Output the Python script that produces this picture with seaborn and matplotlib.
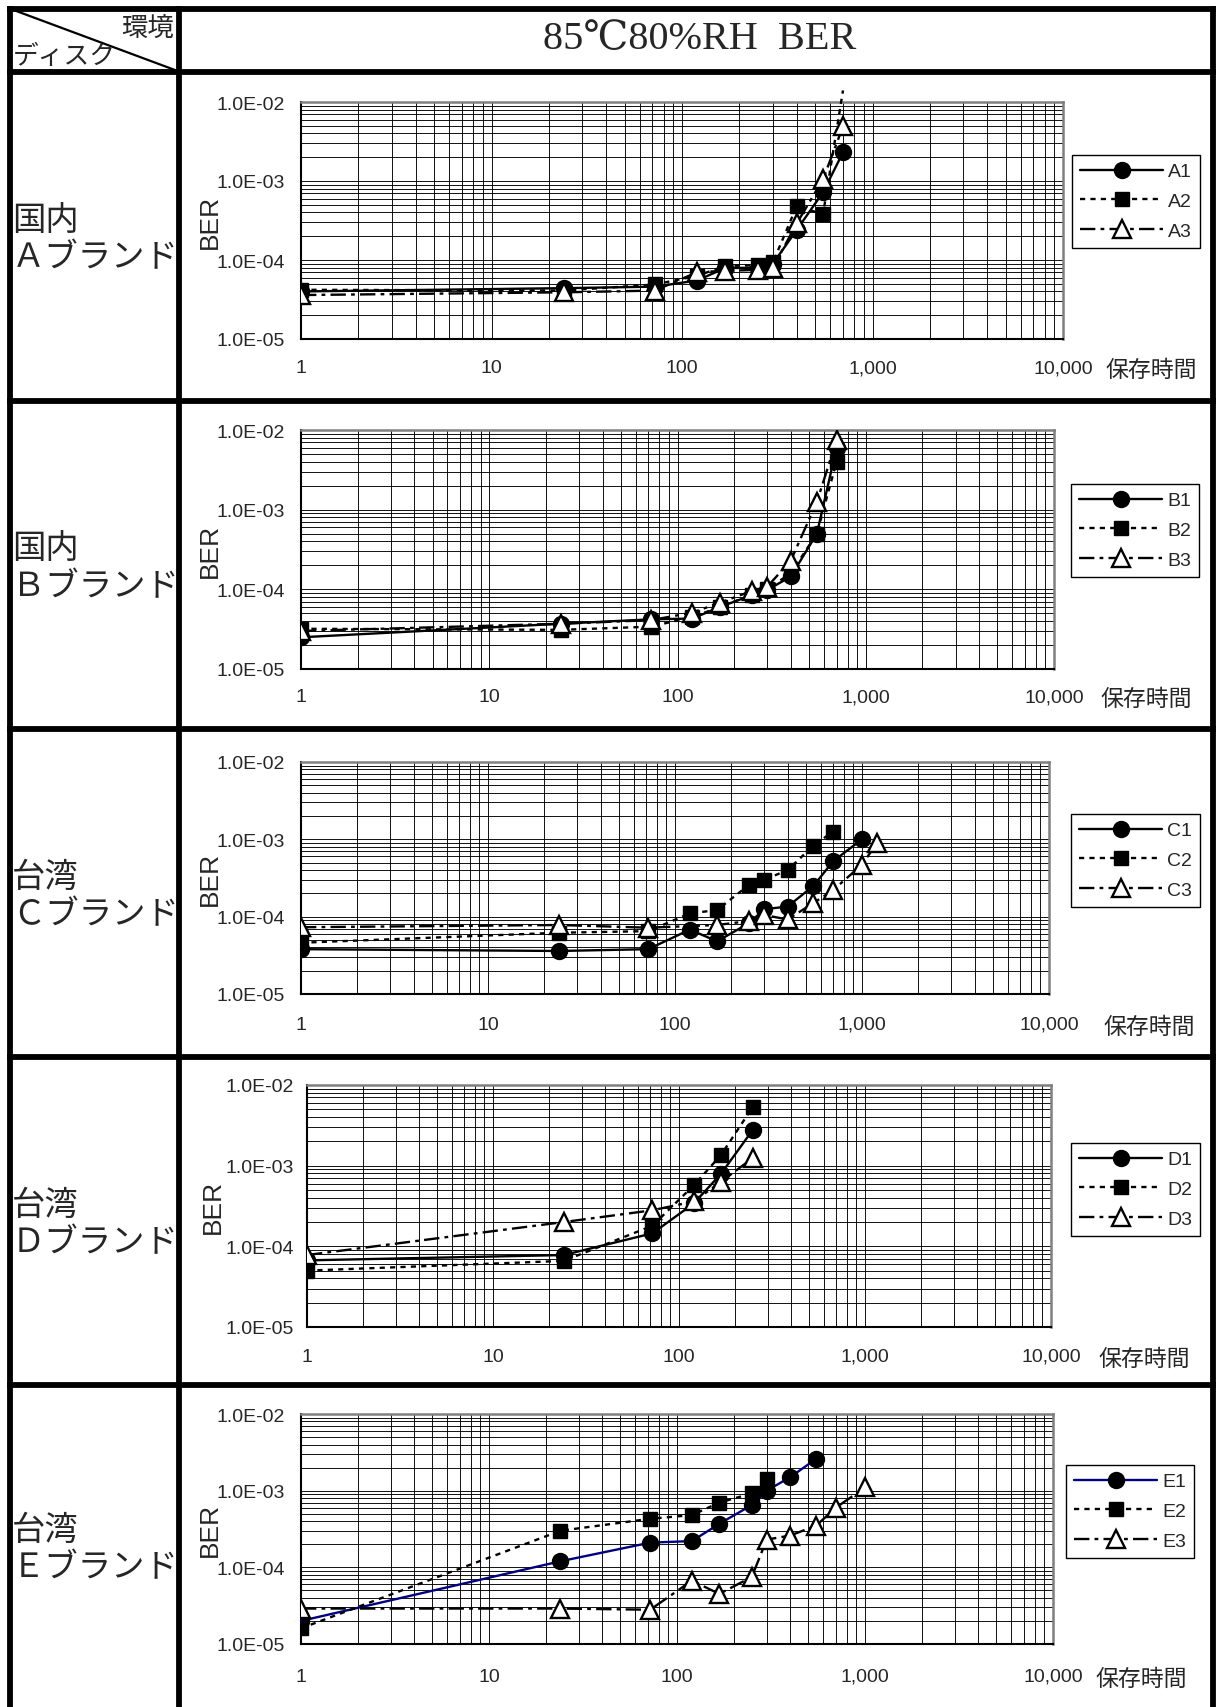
import matplotlib
matplotlib.use("Agg")
import matplotlib.pyplot as plt
from matplotlib.lines import Line2D
from matplotlib.ticker import FixedLocator, FixedFormatter, LogLocator, NullFormatter
import numpy as np
import pandas as pd
import seaborn as sns

sns.set_style("white")
plt.rcParams["font.family"] = ["Liberation Sans", "Noto Sans CJK JP"]
JP = ["Noto Sans CJK JP", "DejaVu Sans"]
SERIF = ["Liberation Serif", "DejaVu Serif", "Noto Sans CJK JP"]

# ---------------- data: storage hours vs. bit error rate ----------------
A_hours = [1, 24, 72, 120, 168, 250, 300, 400, 550, 700]
A1 = [4.0e-5, 4.4e-5, 4.6e-5, 5.5e-5, 7.9e-5, 8.0e-5, 9.0e-5, 2.4e-4, 7.2e-4, 2.3e-3]
A2 = [4.2e-5, 4.1e-5, 4.9e-5, 6.3e-5, 8.4e-5, 8.6e-5, 9.3e-5, 4.8e-4, 3.8e-4, 1.4e-2]
A3 = [3.6e-5, 3.9e-5, 4.1e-5, 7.0e-5, 7.3e-5, 7.5e-5, 8.0e-5, 2.9e-4, 1.05e-3, 4.9e-3]

B_hours = [1, 24, 72, 120, 168, 250, 300, 400, 550, 700]
B1 = [2.5e-5, 3.7e-5, 4.2e-5, 4.3e-5, 6.0e-5, 8.5e-5, 9.8e-5, 1.45e-4, 5.0e-4, 6.0e-3]
B2 = [3.2e-5, 3.1e-5, 3.4e-5, 4.5e-5, 6.0e-5, 8.6e-5, 1.0e-4, 1.6e-4, 5.0e-4, 4.0e-3]
B3 = [3.0e-5, 3.7e-5, 4.1e-5, 5.1e-5, 6.8e-5, 9.6e-5, 1.08e-4, 2.3e-4, 1.25e-3, 7.5e-3]

C1_hours = [1, 24, 72, 120, 168, 250, 300, 400, 550, 700, 1000]
C1 = [3.8e-5, 3.6e-5, 3.8e-5, 6.8e-5, 4.8e-5, 8.3e-5, 1.25e-4, 1.35e-4, 2.5e-4, 5.2e-4, 1.0e-3]
C2_hours = [1, 24, 72, 120, 168, 250, 300, 400, 550, 700]
C2 = [4.6e-5, 6.2e-5, 6.5e-5, 1.1e-4, 1.22e-4, 2.6e-4, 3.0e-4, 4.0e-4, 8.3e-4, 1.26e-3]
C3_hours = [1, 24, 72, 168, 250, 300, 400, 550, 700, 1000, 1200]
C3 = [7.3e-5, 7.8e-5, 7.2e-5, 7.8e-5, 8.8e-5, 1.05e-4, 9.2e-5, 1.5e-4, 2.2e-4, 4.7e-4, 8.9e-4]

D_hours = [1, 24, 72, 120, 168, 250]
D1 = [6.7e-5, 7.8e-5, 1.45e-4, 3.4e-4, 7.9e-4, 2.8e-3]
D2 = [5.0e-5, 6.6e-5, 1.8e-4, 5.7e-4, 1.35e-3, 5.4e-3]
D3 = [7.8e-5, 2.0e-4, 2.8e-4, 3.6e-4, 6.3e-4, 1.25e-3]

E1_hours = [1, 24, 72, 120, 168, 250, 300, 400, 550]
E1 = [2.0e-5, 1.2e-4, 2.1e-4, 2.2e-4, 3.7e-4, 6.5e-4, 1.0e-3, 1.5e-3, 2.6e-3]
E2_hours = [1, 24, 72, 120, 168, 250, 300]
E2 = [1.6e-5, 3.0e-4, 4.3e-4, 4.8e-4, 7.0e-4, 9.2e-4, 1.4e-3]
E3_hours = [1, 24, 72, 120, 168, 250, 300, 400, 550, 700, 1000]
E3 = [2.9e-5, 2.9e-5, 2.8e-5, 6.7e-5, 4.5e-5, 7.5e-5, 2.3e-4, 2.6e-4, 3.5e-4, 6.0e-4, 1.1e-3]

x_ticks = [1, 10, 100, 1000, 10000]
x_tick_labels = ["1", "10", "100", "1,000", "10,000"]
y_ticks = [1e-5, 1e-4, 1e-3, 1e-2]
y_tick_labels = ["1.0E-05", "1.0E-04", "1.0E-03", "1.0E-02"]

title = "85℃80%RH  BER"
header_env = "環境"
header_disk = "ディスク"
row_labels = ["国内\nＡブランド", "国内\nＢブランド", "台湾\nＣブランド",
              "台湾\nＤブランド", "台湾\nＥブランド"]
x_title = "保存時間"
y_title = "BER"

# ---------------- figure & table frame ----------------
W, H = 1221, 1708
fig = plt.figure(figsize=(W / 100, H / 100), dpi=100)

bg = fig.add_axes([0, 0, 1, 1], zorder=0)
bg.set_xlim(0, W)
bg.set_ylim(H, 0)
bg.axis("off")

BORDER = 4.2
row_edges = [9.5, 72.5, 401.5, 730, 1058, 1386, H]
for y in row_edges[:-1]:
    bg.plot([9.5, 1212.5], [y, y], color="black", lw=BORDER, solid_capstyle="projecting")
for x in [9.5, 179, 1212.5]:
    bg.plot([x, x], [9.5, H], color="black", lw=BORDER, solid_capstyle="projecting")
bg.plot([9.5, 179], [9.5, 72.5], color="black", lw=1.6)

bg.text(174, 28, header_env, family=JP, fontsize=19, ha="right", va="center")
bg.text(13, 57, header_disk, family=JP, fontsize=18.5, ha="left", va="center")
bg.text(700, 39, title, family=SERIF, fontsize=29, ha="center", va="center")

for i, lab in enumerate(row_labels):
    cy = (row_edges[i + 1] + row_edges[i + 2]) / 2 + 2
    bg.text(12, cy, lab, family=JP, fontsize=24, ha="left", va="center", linespacing=1.1)

# ---------------- series styles ----------------
LW = 1.7
STYLES = [
    dict(ls="-", marker="o", ms=11.5, mfc="black", mec="black", mew=1.0),
    dict(ls=(0, (2.2, 2.2)), marker="s", ms=10.5, mfc="black", mec="black", mew=1.0),
    dict(ls=(0, (6.5, 2.2, 1.6, 2.2)), marker="^", ms=13.5, mfc="white", mec="black", mew=1.7),
]
Y_MIN, Y_MAX = 1e-5, 1e-2
TICK_FS = 14

panels = [
    dict(box=(301, 103, 1063, 340), legend=(1072, 156), names=["A1", "A2", "A3"],
         series=[(A_hours, A1), (A_hours, A2), (A_hours, A3)],
         colors=["black", "black", "black"], xpad=14.7, ypad=11.5, ber_x=210, xt=1105),
    dict(box=(301, 431, 1054, 670), legend=(1071, 485), names=["B1", "B2", "B3"],
         series=[(B_hours, B1), (B_hours, B2), (B_hours, B3)],
         colors=["black", "black", "black"], xpad=14.0, ypad=11.5, ber_x=210, xt=1100),
    dict(box=(301, 763, 1049, 995), legend=(1071, 815), names=["C1", "C2", "C3"],
         series=[(C1_hours, C1), (C2_hours, C2), (C3_hours, C3)],
         colors=["black", "black", "black"], xpad=15.5, ypad=11.5, ber_x=210, xt=1103),
    dict(box=(307, 1086, 1051, 1328), legend=(1071, 1144), names=["D1", "D2", "D3"],
         series=[(D_hours, D1), (D_hours, D2), (D_hours, D3)],
         colors=["black", "black", "black"], xpad=14.8, ypad=9.5, ber_x=213, xt=1098),
    dict(box=(301, 1415, 1053, 1645), legend=(1066, 1466), names=["E1", "E2", "E3"],
         series=[(E1_hours, E1), (E2_hours, E2), (E3_hours, E3)],
         colors=["#000080", "black", "black"], xpad=17.0, ypad=11.5, ber_x=210, xt=1095),
]

for p in panels:
    l, t, r, b = p["box"]
    ax = fig.add_axes([l / W, 1 - b / H, (r - l) / W, (b - t) / H], zorder=2)
    ax.set_xscale("log")
    ax.set_yscale("log")

    handles = []
    for i, ((hrs, vals), name) in enumerate(zip(p["series"], p["names"])):
        st = STYLES[i]
        col = p["colors"][i]
        df = pd.DataFrame({"hours": hrs, "ber": vals})
        sns.lineplot(data=df, x="hours", y="ber", ax=ax, color=col, linestyle=st["ls"],
                     linewidth=LW, estimator=None, sort=False, legend=False,
                     clip_on=False, zorder=3 + 2 * i)
        shown = df[(df["ber"] >= Y_MIN) & (df["ber"] <= Y_MAX)]
        sns.lineplot(data=shown, x="hours", y="ber", ax=ax, color="black", linestyle="none",
                     marker=st["marker"], markersize=st["ms"], markerfacecolor=st["mfc"],
                     markeredgecolor=st["mec"], markeredgewidth=st["mew"],
                     estimator=None, sort=False, legend=False, zorder=4 + 2 * i)
        handles.append(Line2D([], [], color=col, linestyle=st["ls"], linewidth=LW,
                              marker=st["marker"], markersize=st["ms"],
                              markerfacecolor=st["mfc"], markeredgecolor=st["mec"],
                              markeredgewidth=st["mew"]))

    ax.set_xlim(1, 1e4)
    ax.set_ylim(Y_MIN, Y_MAX)
    ax.xaxis.set_major_locator(FixedLocator(x_ticks))
    ax.xaxis.set_major_formatter(FixedFormatter(x_tick_labels))
    ax.xaxis.set_minor_locator(LogLocator(base=10, subs=np.arange(2, 10)))
    ax.xaxis.set_minor_formatter(NullFormatter())
    ax.yaxis.set_major_locator(FixedLocator(y_ticks))
    ax.yaxis.set_major_formatter(FixedFormatter(y_tick_labels))
    ax.yaxis.set_minor_locator(LogLocator(base=10, subs=np.arange(2, 10)))
    ax.yaxis.set_minor_formatter(NullFormatter())
    ax.grid(True, which="both", color="black", linewidth=0.65)
    ax.set_axisbelow(True)
    ax.tick_params(which="both", length=0)
    ax.tick_params(axis="x", labelsize=TICK_FS, pad=p["xpad"])
    ax.tick_params(axis="y", labelsize=TICK_FS, pad=p["ypad"])
    for s in ["left", "bottom"]:
        ax.spines[s].set_color("black")
        ax.spines[s].set_linewidth(1.5)
    for s in ["top", "right"]:
        ax.spines[s].set_color("#7f7f7f")
        ax.spines[s].set_linewidth(1.8)

    ax.set_xlabel("")
    ax.set_ylabel(y_title, fontsize=19, va="center")
    ax.yaxis.set_label_coords((p["ber_x"] - l) / (r - l), 0.5)

    label_cy = b + p["xpad"] / 0.72 + 10.5
    bg.text(p["xt"], label_cy, x_title, family=JP, fontsize=16.5, ha="left", va="center")

    lx, ly = p["legend"]
    leg = ax.legend(handles, p["names"], loc="upper left",
                    bbox_to_anchor=(lx / W, 1 - ly / H), bbox_transform=fig.transFigure,
                    frameon=True, fancybox=False, edgecolor="black", framealpha=1,
                    borderaxespad=0, handlelength=4.3, handletextpad=0.25,
                    labelspacing=0.62, borderpad=0.4, fontsize=14, numpoints=1)
    leg.get_frame().set_linewidth(1.0)

fig.savefig("out.png", dpi=100)
